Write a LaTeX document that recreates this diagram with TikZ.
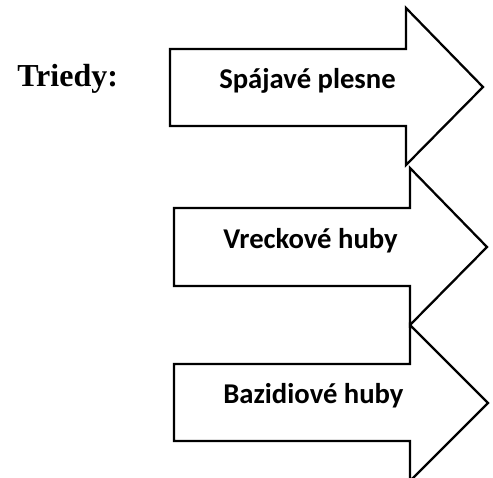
\documentclass[tikz,border=0pt]{standalone}
\usepackage{fontspec}
\setmainfont{Liberation Serif}
\newfontfamily\carlito{Carlito}
\begin{document}
\begin{tikzpicture}[x=0.75pt,y=-0.75pt,
  arrowshape/.style={draw=black, line width=1.7pt, miter limit=10, fill=white},
  lbl/.style={font=\carlito\bfseries\fontsize{21.5}{25}\selectfont, anchor=base west, inner sep=0pt},
  title/.style={font=\bfseries\fontsize{24}{28}\selectfont, anchor=base west, inner sep=0pt}]
\useasboundingbox (0,0) rectangle (493,478);
\begin{scope}
\clip (0,0) rectangle (493,478);
\draw[arrowshape] (170,49) -- (406,49) -- (406,8) -- (483,87) -- (406,165) -- (406,126) -- (170,126) -- cycle;
\draw[arrowshape] (174,208) -- (410,208) -- (410,168) -- (487,247) -- (410,325) -- (410,286) -- (174,286) -- cycle;
\draw[arrowshape] (174,364) -- (410,364) -- (410,325) -- (488,403) -- (410,481) -- (410,441) -- (174,441) -- cycle;
\end{scope}
\node[title] (triedy) at (17,87) {Triedy:};
\node[lbl] (a1) at (219,89) {Spájavé plesne};
\node[lbl] (a2) at (223,248) {Vreckové huby};
\node[lbl] (a3) at (223,403) {Bazidiové huby};
\end{tikzpicture}
\end{document}
